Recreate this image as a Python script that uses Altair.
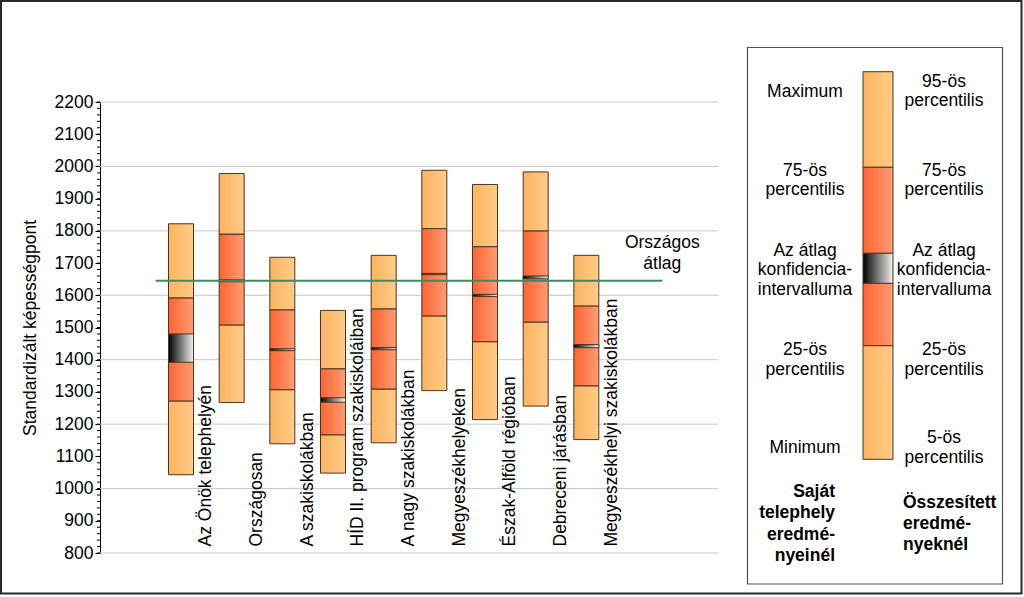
import altair as alt
import pandas as pd

# ---------------- data ----------------
categories = [
    "Az Önök telephelyén",
    "Országosan",
    "A szakiskolákban",
    "HÍD II. program szakiskoláiban",
    "A nagy szakiskolákban",
    "Megyeszékhelyeken",
    "Észak-Alföld régióban",
    "Debreceni járásban",
    "Megyeszékhelyi szakiskolákban",
]
p_low = [1043, 1267, 1139, 1048, 1142, 1304, 1214, 1256, 1152]
p25 = [1272, 1508, 1307, 1167, 1309, 1536, 1456, 1517, 1319]
p75 = [1592, 1790, 1555, 1372, 1558, 1807, 1751, 1800, 1567]
p_high = [1822, 1978, 1718, 1553, 1724, 1988, 1944, 1983, 1724]
ci_low = [1392, 1642, 1428, 1268, 1431, 1664, 1596, 1651, 1437]
ci_high = [1480, 1648, 1434, 1282, 1438, 1668, 1603, 1660, 1447]
national_mean = 1645
national_label = "Országos\nátlag"
y_title = "Standardizált képességpont"
y_major = list(range(800, 2201, 100))
y_minor = list(range(800, 2201, 20))
y_grid = list(range(800, 2201, 200))

legend_left = ["Maximum", "75-ös\npercentilis", "Az átlag\nkonfidencia-\nintervalluma",
               "25-ös\npercentilis", "Minimum"]
legend_right = ["95-ös\npercentilis", "75-ös\npercentilis", "Az átlag\nkonfidencia-\nintervalluma",
                "25-ös\npercentilis", "5-ös\npercentilis"]
legend_left_title = "Saját\ntelephely\neredmé-\nnyeinél"
legend_right_title = "Összesített\neredmé-\nnyeknél"

# ---------------- styling ----------------
FONT = "Liberation Sans"
FS = 17.5
STROKE = "#4a3520"


def grad(c1, c2):
    return alt.LinearGradient(
        gradient="linear",
        stops=[alt.GradientStop(color=c1, offset=0), alt.GradientStop(color=c2, offset=1)],
        x1=0, x2=1, y1=0, y2=0,
    )


LIGHT = grad("#FDB45E", "#FFCB88")
MID = grad("#FF6530", "#FF9C72")
CI = grad("#000000", "#F2F2F2")

n = len(categories)
df = pd.DataFrame({
    "cat": categories,
    "slot": [i + 1.5 for i in range(n)],
    "lab": [i + 2 for i in range(n)],
    "p_low": p_low, "p25": p25, "p75": p75, "p_high": p_high,
    "ci_low": ci_low, "ci_high": ci_high,
})

xsc = alt.Scale(domain=[0, 12])
ysc = alt.Scale(domain=[800, 2200], zero=False, nice=False)
X = alt.X("slot:Q", scale=xsc, axis=None)

ax_main = alt.Axis(orient="left", values=y_major, format="d", grid=False, tickSize=5,
                   tickColor="black", domainColor="black", labelFontSize=FS, labelFont=FONT,
                   labelColor="black", labelPadding=2, labelOverlap=False, title=y_title,
                   titleFontSize=FS, titleFont=FONT, titleFontWeight="normal", titleColor="black",
                   titlePadding=15)


def Y(field):
    # every layer carries the same axis so that the merged axis keeps these settings
    return alt.Y(field, scale=ysc, axis=ax_main)


# grid lines and minor ticks, drawn from the tick lists through the y scale
grid = alt.Chart(pd.DataFrame({"g": y_grid})).mark_rule(color="#c8c8c8", strokeWidth=1).encode(
    y=Y("g:Q"), x=alt.value(0), x2=alt.value(618))
minor = alt.Chart(pd.DataFrame({"t": y_minor})).mark_rule(color="black", strokeWidth=1).encode(
    y=Y("t:Q"), x=alt.value(-3), x2=alt.value(0))

base = alt.Chart(df)
bar_kw = dict(size=25, stroke=STROKE, strokeWidth=1)

light_low = base.mark_bar(color=LIGHT, **bar_kw).encode(x=X, y=Y("p_low:Q"), y2="p25:Q")
mid = base.mark_bar(color=MID, **bar_kw).encode(x=X, y=Y("p25:Q"), y2="p75:Q")
light_high = base.mark_bar(color=LIGHT, **bar_kw).encode(x=X, y=Y("p75:Q"), y2="p_high:Q")
ci = base.mark_bar(color=CI, **bar_kw).encode(x=X, y=Y("ci_low:Q"), y2="ci_high:Q")

mean_df = pd.DataFrame({"m": [national_mean], "t": [national_label], "a": [1], "b": [11]})
rule = alt.Chart(mean_df).mark_rule(color="#3b8c5c", strokeWidth=2).encode(
    x=alt.X("a:Q", scale=xsc, axis=None), x2="b:Q", y=Y("m:Q"))
rule_text = alt.Chart(mean_df).mark_text(
    font=FONT, fontSize=FS, color="black", align="center", baseline="middle",
    lineBreak="\n", lineHeight=21, dy=-38).encode(
    x=alt.X("b:Q", scale=xsc, axis=None), y=Y("m:Q"), text="t:N")

cat_labels = base.mark_text(
    angle=270, align="left", baseline="middle", font=FONT, fontSize=FS, color="black").encode(
    x=alt.X("lab:Q", scale=xsc, axis=None), y=alt.value(444.5), text="cat:N")

dummy = alt.Chart(pd.DataFrame({"a": [0]}))


def box(x1, x2, y1, y2, stroke, sw):
    return dummy.mark_rect(fill="white", fillOpacity=0, stroke=stroke, strokeWidth=sw).encode(
        x=alt.value(x1), x2=alt.value(x2), y=alt.value(y1), y2=alt.value(y2))


outer = box(-99, 921.5, -101, 491.5, "#2a2a2a", 2)
legend_frame = box(647.5, 902.5, -54.5, 482, "#505050", 1.2)


def seg(y1, y2, color):
    return dummy.mark_rect(color=color, stroke=STROKE, strokeWidth=1).encode(
        x=alt.value(763), x2=alt.value(793), y=alt.value(y1), y2=alt.value(y2))


legend_bar = [
    seg(-30.3, 65.3, LIGHT),
    seg(65.3, 151.3, MID),
    seg(181.3, 243.7, MID),
    seg(243.7, 357.3, LIGHT),
    seg(151.3, 181.3, CI),
]


def txt(t, x, y, align="center", weight="normal", lh=19.7):
    return dummy.mark_text(text=t, font=FONT, fontSize=FS, fontWeight=weight, color="black",
                           align=align, baseline="middle", lineBreak="\n", lineHeight=lh).encode(
        x=alt.value(x), y=alt.value(y))


# y of the first line of each legend text (plot-relative pixels)
left_y = [-10.3, 68.7, 148.7, 248, 345.7]
right_y = [-20.3, 68.7, 148.7, 248, 336.3]
legend_texts = [txt(t, 705, y) for t, y in zip(legend_left, left_y)]
legend_texts += [txt(t, 844, y) for t, y in zip(legend_right, right_y)]
legend_texts.append(txt(legend_left_title, 735, 390.3, align="right", weight="bold", lh=21.2))
legend_texts.append(txt(legend_right_title, 803, 401.3, align="left", weight="bold", lh=20.8))

chart = alt.layer(
    outer, legend_frame, grid, minor, light_low, mid, light_high, ci, rule, rule_text, cat_labels,
    *legend_bar, *legend_texts,
).properties(
    width=618, height=451,
    padding={"left": 100, "top": 102, "right": 306, "bottom": 44},
    autosize=alt.AutoSizeParams(type="none"),
    background="white",
).configure_view(stroke="transparent")

chart.save("out.html", embed_options={"renderer": "svg", "actions": False})
